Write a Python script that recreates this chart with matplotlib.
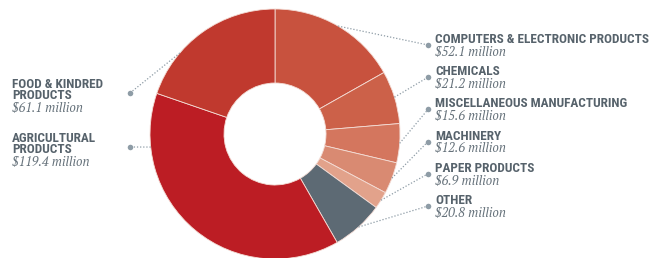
import numpy as np
import matplotlib.pyplot as plt

# data
categories = ['COMPUTERS & ELECTRONIC PRODUCTS', 'CHEMICALS', 'MISCELLANEOUS MANUFACTURING',
              'MACHINERY', 'PAPER PRODUCTS', 'OTHER', 'AGRICULTURAL\nPRODUCTS', 'FOOD & KINDRED\nPRODUCTS']
values = [52.1, 21.2, 15.6, 12.6, 6.9, 20.8, 119.4, 61.1]
colors = ['#c8523e', '#cc6149', '#d4765e', '#d98a72', '#e2a28b', '#5d6a74', '#bc1d24', '#c0392e']

W, H = 661, 258
cx, cy, R, ring = 275, 134, 125, 74
title_c = '#56626b'
value_c = '#66727b'
line_c = '#8e9ca6'
title_font = dict(family=['Roboto Condensed', 'DejaVu Sans'], weight='bold', size=9.5)
value_font = dict(family=['PT Serif', 'DejaVu Serif'], style='italic', size=9.2)

def Y(y):
    return H - y

fig = plt.figure(figsize=(W / 100, H / 100), dpi=100)
ax = fig.add_axes([0, 0, 1, 1])

wedges, _ = ax.pie(values, startangle=90, counterclock=False, colors=colors,
                   center=(cx, Y(cy)), radius=R,
                   wedgeprops=dict(width=ring, edgecolor='#f4ddd6', linewidth=0.6))
ax.set_xlim(0, W)
ax.set_ylim(0, H)
ax.set_aspect('auto')
ax.axis('off')

# leader line anchor angles: wedge middle, left two moved by hand
anchor = [(w.theta1 + w.theta2) / 2 for w in wedges]
anchor[6] = 186
anchor[7] = 139.6

for i, (cat, val) in enumerate(zip(categories, values)):
    lines = cat.split('\n')
    if i < 6:
        tx, base = 435, 43 + i * 32.2
        dx, dy = 428, base + 2
        vbase = base + 12
    else:
        tx = 12
        base = 142 if i == 6 else 88
        dx, dy = 130, base + 5
        vbase = base + 11 + 12.5
    for k, ln in enumerate(lines):
        ax.text(tx, Y(base + k * 11), ln, color=title_c, va='baseline', ha='left', **title_font)
    ax.text(tx, Y(vbase), f'${val} million', color=value_c, va='baseline', ha='left', **value_font)
    a = np.radians(anchor[i])
    ex, ey = cx + R * np.cos(a), Y(cy) + R * np.sin(a)
    ax.plot([ex, dx], [ey, Y(dy)], color=line_c, lw=0.9, ls=(0, (1, 1.5)))
    ax.plot(dx, Y(dy), 'o', color=line_c, ms=4, mec='none')

fig.savefig('out.png', dpi=100)
